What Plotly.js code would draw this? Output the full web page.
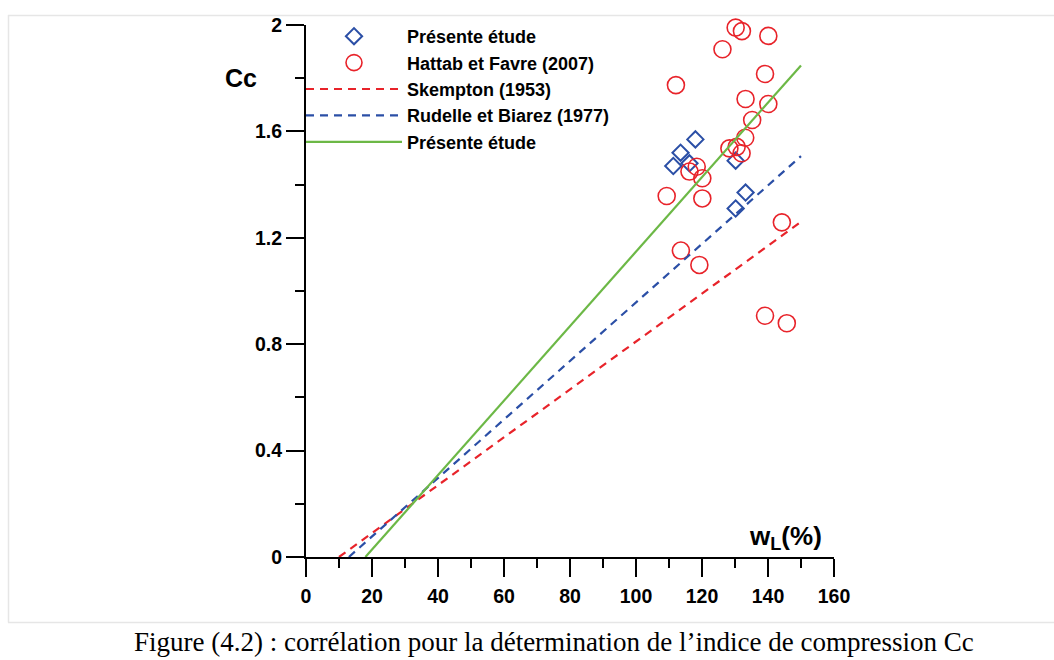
<!DOCTYPE html>
<html>
<head>
<meta charset="utf-8">
<script src="https://cdn.plot.ly/plotly-3.0.1.min.js"></script>
<style>
html,body{margin:0;padding:0;background:#fff;}
#chart{width:1054px;height:660px;}
</style>
</head>
<body>
<div id="chart"></div>
<script>
// Présente étude (points)
var presX = [118, 113.5, 111.3, 116.2, 130.2, 133.2, 130.2];
var presY = [1.57, 1.52, 1.47, 1.48, 1.49, 1.37, 1.31];
// Hattab et Favre (2007)
var hattabX = [130.2, 132.1, 140.1, 126.2, 112.1, 139.1, 133.2, 140.1, 135.2, 133.1, 128.3, 130.5, 132.0, 118.4, 116.2, 120.1, 109.3, 120.1, 113.6, 119.2, 144.2, 139.1, 145.7];
var hattabY = [1.99, 1.977, 1.959, 1.909, 1.774, 1.816, 1.722, 1.703, 1.643, 1.576, 1.536, 1.542, 1.518, 1.467, 1.449, 1.424, 1.357, 1.348, 1.152, 1.098, 1.258, 0.907, 0.879];
// Correlation lines (end points)
var skemptonX = [10, 150];
var skemptonY = [0, 1.26];
var rudelleX = [13, 150];
var rudelleY = [0, 1.507];
var presLineX = [18, 150];
var presLineY = [0, 1.848];

var names = ['Présente étude', 'Hattab et Favre (2007)', 'Skempton (1953)', 'Rudelle et Biarez (1977)', 'Présente étude'];
var xTicks = [0, 20, 40, 60, 80, 100, 120, 140, 160];
var yTicks = [0, 0.4, 0.8, 1.2, 1.6, 2];

var BLUE = '#2b4fa6', RED = '#e8232a', GREEN = '#6cb846';
var FONT = 'Liberation Sans, Arial, sans-serif';

var data = [
  {x: presX, y: presY, name: names[0], mode: 'markers', type: 'scatter', cliponaxis: false,
   marker: {symbol: 'diamond-open', size: 12.5, color: BLUE, line: {width: 2, color: BLUE}}},
  {x: hattabX, y: hattabY, name: names[1], mode: 'markers', type: 'scatter', cliponaxis: false,
   marker: {symbol: 'circle-open', size: 17, color: RED, line: {width: 1.6, color: RED}}},
  {x: skemptonX, y: skemptonY, name: names[2], mode: 'lines', type: 'scatter',
   line: {color: RED, width: 2.2, dash: '8px,6px'}},
  {x: rudelleX, y: rudelleY, name: names[3], mode: 'lines', type: 'scatter',
   line: {color: BLUE, width: 2.2, dash: '8px,6px'}},
  {x: presLineX, y: presLineY, name: names[4], mode: 'lines', type: 'scatter',
   line: {color: GREEN, width: 2.2}}
];

var L = 306, T = 25, W = 528, H = 532;
function px(x){ return (x - L) / W; }
function py(y){ return (T + H - y) / H; }

var layout = {
  width: 1054, height: 660,
  margin: {l: L, r: 1054 - L - W, t: T, b: 660 - T - H},
  paper_bgcolor: '#fff', plot_bgcolor: '#fff',
  showlegend: true,
  legend: {x: px(301), y: py(18), xanchor: 'left', yanchor: 'top', bgcolor: 'rgba(0,0,0,0)',
           itemwidth: 96, font: {family: FONT, size: 18, weight: 'bold', color: '#000'}},
  xaxis: {range: [0, 160], tickvals: xTicks, ticktext: xTicks.map(String), showgrid: false, zeroline: false,
          showline: true, linecolor: '#000', linewidth: 2, ticks: 'outside', ticklen: 18, tickwidth: 2, tickcolor: '#000',
          ticklabelstandoff: 3,
          minor: {dtick: 10, tick0: 0, ticks: 'outside', ticklen: 9, tickwidth: 2, tickcolor: '#000', showgrid: false},
          tickfont: {family: FONT, size: 19.5, weight: 'bold', color: '#000'}, fixedrange: true},
  yaxis: {range: [0, 2], tickvals: yTicks, ticktext: yTicks.map(String), showgrid: false, zeroline: false,
          showline: true, linecolor: '#000', linewidth: 2, ticks: 'outside', ticklen: 18, tickwidth: 2, tickcolor: '#000',
          minor: {dtick: 0.2, tick0: 0, ticks: 'outside', ticklen: 9, tickwidth: 2, tickcolor: '#000', showgrid: false},
          tickfont: {family: FONT, size: 19.5, weight: 'bold', color: '#000'}, fixedrange: true},
  annotations: [
    {text: 'Cc', xref: 'paper', yref: 'paper', x: px(241), y: py(78), xanchor: 'center', yanchor: 'middle',
     showarrow: false, font: {family: FONT, size: 25, weight: 'bold', color: '#000'}},
    {text: 'w<sub>L</sub>(%)', xref: 'paper', yref: 'paper', x: px(785), y: py(537), xanchor: 'center', yanchor: 'middle',
     showarrow: false, font: {family: FONT, size: 26, weight: 'bold', color: '#000'}},
    {text: 'Figure (4.2) : corrélation pour la détermination de l’indice de compression Cc', xref: 'paper', yref: 'paper',
     x: px(554), y: py(642), xanchor: 'center', yanchor: 'middle', showarrow: false,
     font: {family: 'Liberation Serif, Times New Roman, serif', size: 27, color: '#000'}}
  ],
  shapes: [
    {type: 'line', xref: 'paper', yref: 'paper', x0: px(8), x1: px(1054), y0: py(15.5), y1: py(15.5), line: {color: '#e6e6e6', width: 1.5}},
    {type: 'line', xref: 'paper', yref: 'paper', x0: px(8.5), x1: px(8.5), y0: py(15), y1: py(622.5), line: {color: '#e6e6e6', width: 1.5}},
    {type: 'line', xref: 'paper', yref: 'paper', x0: px(8), x1: px(1054), y0: py(622.5), y1: py(622.5), line: {color: '#e6e6e6', width: 1.5}}
  ]
};

Plotly.newPlot('chart', data, layout, {displayModeBar: false, staticPlot: true});
</script>
</body>
</html>
